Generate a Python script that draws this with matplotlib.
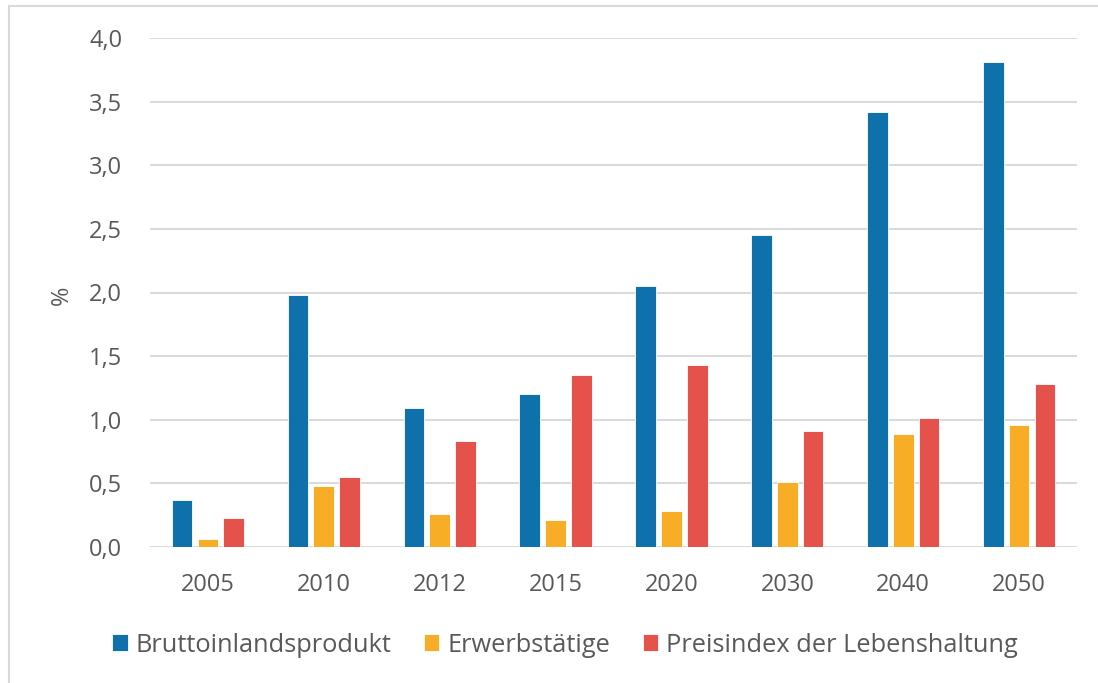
import matplotlib
matplotlib.use("Agg")
import matplotlib.pyplot as plt
import numpy as np
from matplotlib.lines import Line2D
from matplotlib.ticker import FuncFormatter

years = ["2005", "2010", "2012", "2015", "2020", "2030", "2040", "2050"]
bip = [0.37, 1.98, 1.09, 1.20, 2.05, 2.45, 3.42, 3.81]
erwerb = [0.06, 0.48, 0.26, 0.21, 0.28, 0.51, 0.89, 0.96]
preis = [0.23, 0.55, 0.83, 1.35, 1.43, 0.91, 1.01, 1.28]
series_names = ["Bruttoinlandsprodukt", "Erwerbstätige", "Preisindex der Lebenshaltung"]
colors = ["#0E71AC", "#F8AD26", "#E5514B"]

plt.rcParams['font.family'] = ['Open Sans', 'DejaVu Sans']

fig = plt.figure(figsize=(10.98, 6.83), dpi=100)
ax = fig.add_axes([150/1098, 1-547/683, (1077-150)/1098, (547-38)/683])

x = np.arange(len(years))
pitch = 0.223
width = 0.178
for i, (vals, c, name) in enumerate(zip([bip, erwerb, preis], colors, series_names)):
    ax.bar(x + (i-1)*pitch, vals, width=width, color=c, edgecolor='white',
           linewidth=0.6, label=name, zorder=3)

ax.set_xlim(-0.5, len(years)-0.5)
ax.set_ylim(0, 4.0)
ax.set_yticks(np.arange(0, 4.01, 0.5))
ax.yaxis.set_major_formatter(FuncFormatter(lambda v, p: f"{v:.1f}".replace(".", ",")))
ax.set_xticks(x)
ax.set_xticklabels(years)
ax.grid(axis='y', color='#D9D9D9', linewidth=1.4, zorder=0)
ax.set_axisbelow(True)
for s in ax.spines.values():
    s.set_visible(False)
ax.tick_params(axis='both', length=0, labelsize=17, colors='#595959')
ax.tick_params(axis='y', pad=20)
ax.tick_params(axis='x', pad=19)
ax.set_ylabel("%", fontsize=17, color='#595959')
ax.yaxis.set_label_coords(-(150-74)/927, (547-295)/509)

fig.legend(loc='center', bbox_to_anchor=(565/1098, 1-645/683), ncol=3, frameon=False,
           fontsize=18.3, labelcolor='#595959', handlelength=0.6, handleheight=0.6,
           handletextpad=0.3, columnspacing=1.3)

# chart-area border (top and left visible)
fig.add_artist(Line2D([9/1098, 1.0], [1-6/683, 1-6/683], color='#D9D9D9', linewidth=1.5, transform=fig.transFigure))
fig.add_artist(Line2D([9/1098, 9/1098], [0, 1-6/683], color='#D9D9D9', linewidth=1.5, transform=fig.transFigure))

fig.savefig("out.png", dpi=100)
